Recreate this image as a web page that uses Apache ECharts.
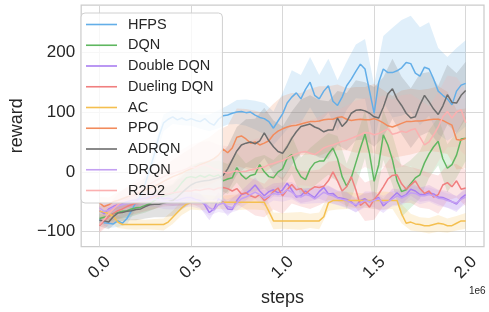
<!DOCTYPE html>
<html><head><meta charset="utf-8">
<script src="https://cdn.jsdelivr.net/npm/echarts@6/dist/echarts.min.js"></script>
<style>html,body{margin:0;padding:0;background:#fff}#c{width:489px;height:312px}</style>
</head><body><div id="c"></div>
<script>
const names = ['HFPS','DQN','Double DQN','Dueling DQN','AC','PPO','ADRQN','DRQN','R2D2'];
const colors = ['#63aee8','#5fb760','#a97ef0','#f07f7f','#f4bf4f','#f28b5c','#6d6d6d','#c4a0f2','#fbb0b0'];
// sampling grid (steps), every 25k
const steps = Array.from({length:81},(_,i)=>i*25000);
const xTicks = [0,500000,1000000,1500000,2000000];
const yTicks = [-100,0,100,200];

const hfps = [-80,-85,-86,-87,-82,-86,-78,-65,-50,-40,
 -20,5,30,60,82,88,92,87,90,86,
 89,86,84,89,82,78,88,94,95,98,
 100,101,99,100,95,91,89,84,73,85,
 97,115,125,132,122,138,150,128,122,135,
 144,118,111,125,144,155,168,180,172,135,
 98,150,172,166,166,169,174,183,181,165,
 160,175,172,155,135,128,122,112,135,145,
 148];
const dqn = [-78,-76,-74,-70,-68,-66,-65,-62,-60,-59,
 -56,-53,-48,-43,-40,-38,-36,-28,-18,-10,
 -8,-10,-6,-9,-5,-8,-5,-15,-12,-10,
 7,-5,-12,-6,-4,12,0,-8,-10,0,
 5,23,29,5,-8,-13,5,15,18,18,
 30,40,22,-8,-24,-10,15,40,63,30,
 -16,12,62,45,20,-15,-33,-30,-20,-10,
 -5,15,30,42,51,22,6,12,28,55,
 56];
const doubleDqn = [-65,-70,-62,-58,-55,-52,-50,-48,-47,-45,
 -44,-42,-40,-42,-45,-44,-46,-48,-45,-43,
 -43,-46,-48,-55,-68,-62,-45,-50,-62,-63,
 -48,-38,-36,-30,-22,-32,-40,-33,-30,-35,
 -30,-19,-30,-42,-40,-32,-38,-43,-33,-26,
 -37,-36,-43,-44,-46,-50,-57,-48,-45,-50,
 -46,-43,-57,-50,-42,-35,-42,-38,-29,-32,
 -38,-38,-35,-37,-42,-43,-46,-50,-54,-44,
 -38];
const duelingDqn = [-90,-82,-75,-70,-65,-62,-58,-55,-52,-50,
 -48,-45,-42,-40,-38,-37,-35,-34,-33,-32,
 -32,-30,-31,-29,-28,-30,-27,-26,-28,-32,
 -28,-37,-35,-40,-43,-38,-48,-42,-33,-27,
 -40,-30,-21,-30,-28,-37,-30,-25,-26,-24,
 -15,0,-15,-32,-25,-8,-30,-56,-50,-59,
 -46,-37,-25,-12,-6,-5,-20,-29,-22,-15,
 -28,-36,-32,-42,-38,-22,-18,-25,-15,-29,
 -27];
const ac = [-66,-67,-70,-74,-84,-88,-88,-88,-88,-88,
 -88,-88,-88,-88,-88,-84,-76,-68,-60,-54,
 -51,-51,-51,-51,-51,-51,-51,-51,-51,-51,
 -51,-51,-51,-51,-51,-51,-51,-66,-82,-82,
 -82,-82,-82,-82,-82,-82,-82,-82,-82,-75,
 -52,-48,-48,-48,-48,-48,-48,-48,-48,-48,
 -48,-48,-48,-48,-48,-48,-70,-86,-84,-87,
 -88,-90,-90,-88,-86,-87,-90,-90,-86,-82,
 -82];
const ppo = [-52,-58,-55,-50,-48,-45,-42,-40,-37,-34,
 -30,-27,-24,-20,-16,-12,-8,-5,-2,2,
 5,8,12,15,18,22,28,38,32,40,
 58,60,55,48,50,45,48,52,62,68,
 72,75,77,78,80,82,84,84,85,87,
 88,88,91,92,88,86,87,88,87,87,
 89,86,82,77,75,78,81,84,84,85,
 85,86,87,88,88,86,82,78,54,53,
 56];
const adrqn = [-81,-82,-84,-75,-69,-68,-66,-65,-63,-62,
 -58,-55,-54,-54,-52,-50,-48,-42,-35,-28,
 -22,-18,-16,-15,-14,-12,-10,-6,5,20,
 35,45,48,50,47,52,65,52,42,34,
 31,42,56,67,76,78,80,75,72,67,
 70,70,90,76,84,98,103,104,102,98,
 92,90,108,130,139,122,111,98,90,92,
 112,128,117,105,96,110,129,116,115,128,
 136];
const drqn = [-60,-66,-64,-60,-57,-55,-53,-51,-50,-49,
 -48,-47,-46,-47,-49,-50,-51,-50,-48,-47,
 -46,-48,-50,-53,-60,-64,-55,-52,-58,-60,
 -52,-45,-42,-38,-34,-38,-44,-40,-36,-38,
 -36,-30,-34,-40,-42,-38,-40,-45,-40,-34,
 -38,-40,-44,-46,-48,-52,-55,-52,-48,-50,
 -48,-45,-52,-50,-45,-40,-44,-40,-35,-36,
 -40,-40,-38,-40,-44,-45,-48,-50,-52,-46,
 -42];
const r2d2 = [-88,-80,-70,-62,-55,-50,-45,-40,-36,-30,
 -25,-20,-16,-12,-8,-5,-3,0,2,5,
 8,6,10,12,9,5,3,0,-2,0,
 2,0,1,3,5,7,8,12,14,17,
 19,23,27,30,33,34,31,29,34,40,
 43,45,48,51,53,56,59,62,66,65,
 62,64,68,72,63,65,68,66,70,72,
 58,45,50,62,75,92,101,90,100,104,
 82];

// band half-widths, every 50k
const hfpsBand = [6,8,10,10,12,14,15,14,12,12,12,12,14,15,16,20,22,24,26,28,35,45,40,42,40,45,42,40,45,50,48,55,75,80,80,82,78,72,70,72,72];
const dqnBand = [10,10,10,12,12,12,14,15,16,18,20,22,22,24,25,25,26,28,28,30,30,32,32,35,35,35,38,38,40,40,40,42,42,42,40,40,40,40,40,38,38];
const doubleDqnBand = [8,10,9,10,11,10,9,10,11,12,10,12,13,11,12,10,12,13,12,11,12,13,12,11,12,14,12,13,11,12,13,12,14,12,11,12,13,12,14,13,12];
const duelingDqnBand = [12,14,15,16,18,18,20,20,22,22,24,25,24,26,28,26,28,30,28,30,30,32,30,32,30,32,34,32,30,32,34,32,34,32,30,32,30,32,30,28,30];
const acBand = [10,11,10,8,9,8,9,10,11,12,12,13,12,11,12,13,12,12,13,14,13,14,15,12,14,13,15,14,13,12,14,15,14,16,14,12,13,14,12,12,13];
const ppoBand = [10,12,14,16,18,20,22,25,28,32,35,38,40,42,45,48,50,52,50,52,55,55,52,55,58,55,55,52,55,55,58,55,52,55,55,52,52,55,52,50,50];
const adrqnBand = [10,12,14,15,18,20,22,24,26,28,30,32,34,36,38,40,40,42,42,44,45,45,45,48,48,48,45,48,50,48,50,50,50,48,50,52,50,48,50,50,48];
const drqnBand = [10,10,10,11,12,12,12,13,12,12,12,12,13,12,12,13,12,12,13,12,14,12,12,13,12,14,12,13,12,12,14,12,13,12,12,14,12,13,12,12,12];
const r2d2Band = [12,15,18,20,22,25,28,30,32,35,38,40,42,42,45,45,48,50,50,52,52,55,55,55,58,58,55,58,60,58,60,60,58,60,60,62,60,58,60,58,55];

const means = [hfps,dqn,doubleDqn,duelingDqn,ac,ppo,adrqn,drqn,r2d2];
const bands = [hfpsBand,dqnBand,doubleDqnBand,duelingDqnBand,acBand,ppoBand,adrqnBand,drqnBand,r2d2Band];

const FONT = '"Liberation Sans", Arial, sans-serif';
const TXT = '#262626';
function rgba(hex, a){
  const n = parseInt(hex.slice(1),16);
  return 'rgba('+((n>>16)&255)+','+((n>>8)&255)+','+(n&255)+','+a+')';
}

const series = [];
names.forEach((n,k)=>{
  const m = means[k], b = bands[k];
  const pts = b.map((h,i)=>[steps[2*i], m[2*i]-h, m[2*i]+h]);
  series.push({type:'custom', name:'_bd'+k, silent:true, data:pts, encode:{x:0, y:[1,2]},
    renderItem:(params, api)=>{
      if (params.dataIndex !== 0) return null;
      const up = pts.map(p=>api.coord([p[0], p[2]]));
      const dn = pts.map(p=>api.coord([p[0], p[1]])).reverse();
      return {type:'polygon', shape:{points:up.concat(dn)}, style:{fill:rgba(colors[k],0.2)}};
    }});
  series.push({type:'line', name:n, data:steps.map((x,i)=>[x,m[i]]), symbol:'none', showSymbol:false,
    lineStyle:{color:colors[k], width:1.5}, itemStyle:{color:colors[k]}});
});

const chart = echarts.init(document.getElementById('c'), null, {renderer:'canvas'});
chart.setOption({
  animation:false,
  backgroundColor:'#ffffff',
  textStyle:{fontFamily:FONT},
  grid:{left:73, top:5, width:411, height:244, show:true, borderColor:'#cccccc', borderWidth:1.25, containLabel:false},
  xAxis:{type:'value', min:-100000, max:2100000,
    name:'steps', nameLocation:'middle', nameGap:36,
    nameTextStyle:{fontSize:18, color:TXT, fontFamily:FONT},
    axisLine:{show:false},
    axisTick:{show:false, customValues:xTicks},
    axisLabel:{customValues:xTicks, formatter:v=>(v/1e6).toFixed(1), rotate:45, align:'center', verticalAlign:'middle',
      margin:21, fontSize:17, color:TXT, fontFamily:FONT},
    splitLine:{show:true, lineStyle:{color:'#d8d8d8', width:1}}
  },
  yAxis:{type:'value', min:-125, max:279,
    name:'reward', nameLocation:'middle', nameGap:53,
    nameTextStyle:{fontSize:18, color:TXT, fontFamily:FONT},
    axisLine:{show:false},
    axisTick:{show:false, customValues:yTicks},
    axisLabel:{customValues:yTicks, formatter:v=>String(v).replace('-','\u2212'), margin:6, fontSize:17, color:TXT, fontFamily:FONT},
    splitLine:{show:true, lineStyle:{color:'#d8d8d8', width:1}}
  },
  legend:{data:names.map(n=>({name:n, icon:'rect'})), orient:'vertical', left:81, top:13, padding:[4,9,5,5],
    itemWidth:31, itemHeight:1.6, itemGap:5.75,
    itemStyle:{borderWidth:0},
    backgroundColor:'rgba(255,255,255,0.8)', borderColor:'#d0d0d0', borderWidth:1, borderRadius:4,
    textStyle:{fontSize:14.5, lineHeight:14, color:TXT, fontFamily:FONT, padding:[0,0,0,6]}
  },
  graphic:[{type:'text', left:469, top:286, style:{text:'1e6', fontSize:10, fill:TXT, fontFamily:FONT}}],
  series:series
});
</script></body></html>
